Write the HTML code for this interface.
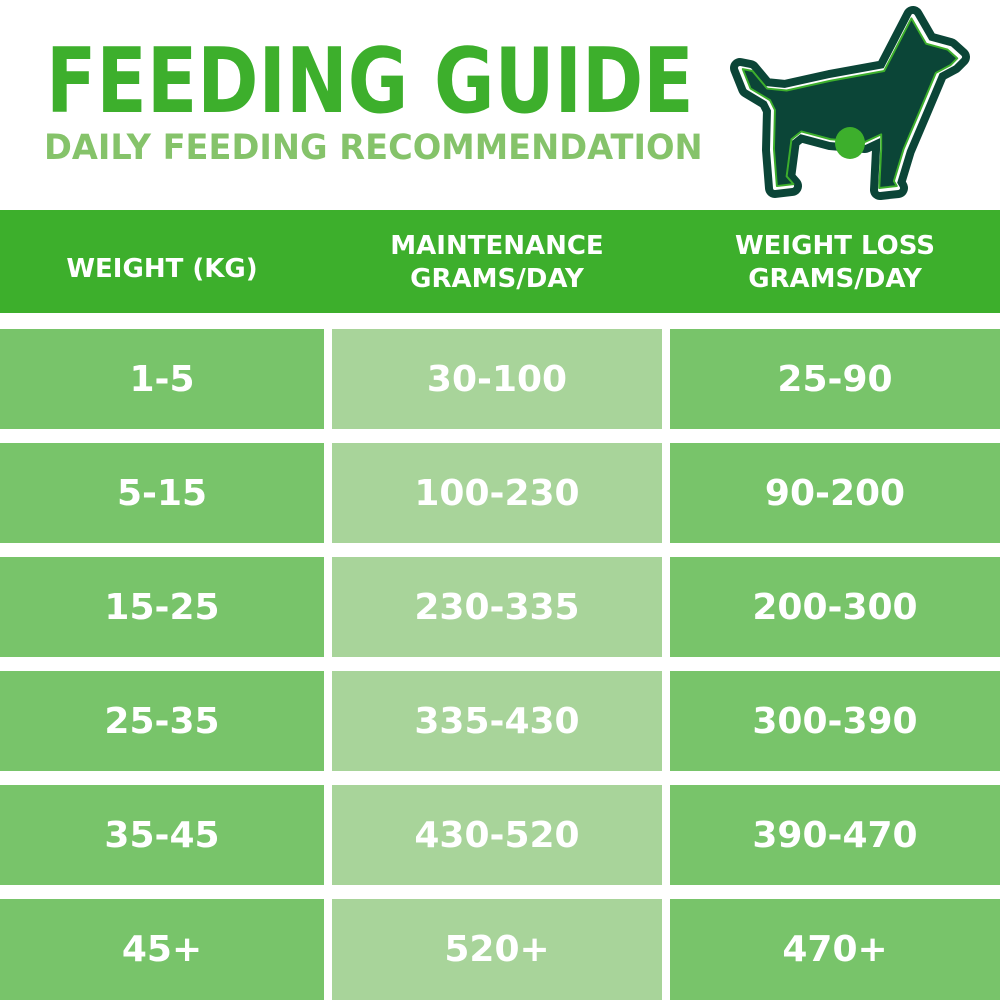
<!DOCTYPE html>
<html><head><style>
body{margin:0;width:1000px;height:1000px;background:#fff;position:relative;overflow:hidden;font-family:"DejaVu Sans","Liberation Sans",sans-serif;font-weight:bold;color:#fff}
.a{position:absolute;display:flex;align-items:center;justify-content:center;text-align:center}
.t1{position:absolute;left:46px;top:37px;font-size:90px;color:#3daf2c;line-height:1;transform:scaleX(0.82);transform-origin:0 0;white-space:nowrap}
.t2{position:absolute;left:44px;top:131px;font-size:35px;color:#85c36a;line-height:1;transform:scaleX(0.96);transform-origin:0 0;white-space:nowrap}
.c1,.c3{background:#78c46a}.c2{background:#a8d49a}
.v{font-size:36px}
</style></head><body>
<div class="t1">FEEDING GUIDE</div>
<div class="t2">DAILY FEEDING RECOMMENDATION</div>
<svg style="position:absolute;left:0;top:0" width="1000" height="210">
<defs><path id="d" d="M913,16 L928,42 L950,48 L960,57 L953,64 L938,72 L922,110 L905,150 L895,183 L898,188 L880,190 L882,150 L882,135 L865,143 L830,140 L800,132 L790,140 L785,178 L792,186 L775,188 L772,150 L773,110 L768,100 L748,88 L740,68 L750,70 L765,88 L785,90 L830,80 L885,70 Z"/></defs>
<use href="#d" fill="#0b4537" stroke="#0b4537" stroke-width="20" stroke-linejoin="round"/>
<use href="#d" fill="none" stroke="#fff" stroke-width="4" stroke-linejoin="round"/>
<use href="#d" fill="#0b4537" stroke="#3daf2c" stroke-width="2" stroke-linejoin="round" transform="translate(850,110) scale(0.975) translate(-850,-110)"/>
<ellipse cx="850" cy="143" rx="15" ry="16" fill="#3daf2c"/>
</svg>
<div class="a" style="left:0;top:210px;width:1000px;height:103px;background:#3daf2c"></div>
<div class="a" style="left:0;top:210px;width:324px;height:118px;font-size:26px">WEIGHT (KG)</div>
<div class="a" style="left:332px;top:225px;width:330px;height:75px;font-size:26px;line-height:33px">MAINTENANCE<br>GRAMS/DAY</div>
<div class="a" style="left:670px;top:225px;width:330px;height:75px;font-size:26px;line-height:33px">WEIGHT LOSS<br>GRAMS/DAY</div>

<div class="a c1 v" style="left:0;top:329px;width:324px;height:100px">1-5</div>
<div class="a c2 v" style="left:332px;top:329px;width:330px;height:100px">30-100</div>
<div class="a c3 v" style="left:670px;top:329px;width:330px;height:100px">25-90</div>

<div class="a c1 v" style="left:0;top:443px;width:324px;height:100px">5-15</div>
<div class="a c2 v" style="left:332px;top:443px;width:330px;height:100px">100-230</div>
<div class="a c3 v" style="left:670px;top:443px;width:330px;height:100px">90-200</div>

<div class="a c1 v" style="left:0;top:557px;width:324px;height:100px">15-25</div>
<div class="a c2 v" style="left:332px;top:557px;width:330px;height:100px">230-335</div>
<div class="a c3 v" style="left:670px;top:557px;width:330px;height:100px">200-300</div>

<div class="a c1 v" style="left:0;top:671px;width:324px;height:100px">25-35</div>
<div class="a c2 v" style="left:332px;top:671px;width:330px;height:100px">335-430</div>
<div class="a c3 v" style="left:670px;top:671px;width:330px;height:100px">300-390</div>

<div class="a c1 v" style="left:0;top:785px;width:324px;height:100px">35-45</div>
<div class="a c2 v" style="left:332px;top:785px;width:330px;height:100px">430-520</div>
<div class="a c3 v" style="left:670px;top:785px;width:330px;height:100px">390-470</div>

<div class="a c1 v" style="left:0;top:899px;width:324px;height:101px">45+</div>
<div class="a c2 v" style="left:332px;top:899px;width:330px;height:101px">520+</div>
<div class="a c3 v" style="left:670px;top:899px;width:330px;height:101px">470+</div>
</body></html>
